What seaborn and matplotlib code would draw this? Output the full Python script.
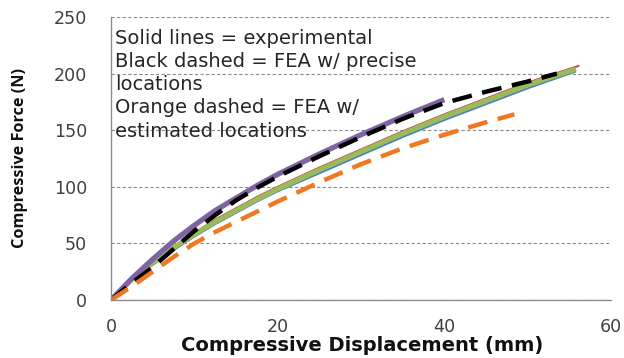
import matplotlib
matplotlib.use("Agg")
import matplotlib.pyplot as plt
import seaborn as sns
import pandas as pd

# Data
green_x = [0, 2.5, 5, 7.5, 10, 12.5, 15, 17.5, 20, 25, 30, 35, 40, 45, 50, 55.8]
green_y = [0, 18, 33, 46, 58, 69, 79, 89, 98, 115, 131, 147, 162, 176, 190, 204]
red_x = [0, 2.5, 5, 7.5, 10, 12.5, 15, 17.5, 20, 25, 30, 35, 40, 45, 50, 56.2]
red_y = [0, 19, 34, 47, 59, 71, 81, 91, 100, 117, 133, 149, 164, 178, 192, 207]
blue_x = [0, 2.5, 5, 7.5, 10, 12.5, 15, 17.5, 20, 25, 30, 35, 40, 45, 50, 55.8]
blue_y = [0, 17, 31, 44, 56, 67, 77, 87, 96, 112, 128, 144, 159, 173, 187, 202]
purple_x = [0, 2.5, 5, 7.5, 10, 12.5, 15, 17.5, 20, 25, 30, 35, 40]
purple_y = [0, 19, 36, 52, 66, 79, 90, 101, 111, 129, 146, 162, 177]
black_x = [0, 2.5, 5, 7.5, 10, 12.5, 15, 17.5, 20, 25, 30, 35, 40, 45, 50, 53.5]
black_y = [0, 15, 29, 45, 61, 75, 88, 99, 109, 127, 144, 160, 174, 184, 193, 200]
orange_x = [0, 2.5, 5, 7.5, 10, 12.5, 15, 17.5, 20, 25, 30, 35, 40, 45, 48.4]
orange_y = [0, 12, 25, 38, 50, 60, 69, 78, 87, 104, 120, 134, 146, 157, 164]

x_ticks = [0, 20, 40, 60]
y_ticks = [0, 50, 100, 150, 200, 250]
x_label = "Compressive Displacement (mm)"
y_label = "Compressive Force (N)"
note = ("Solid lines = experimental\nBlack dashed = FEA w/ precise\nlocations\n"
        "Orange dashed = FEA w/\nestimated locations")

sns.set_style("white")
plt.rcParams['font.family'] = ['DejaVu Sans']

fig = plt.figure(figsize=(6.24, 3.58), dpi=100)
ax = fig.add_axes([111/624, 58/358, 500/624, 283/358])

series = [
    (blue_x, blue_y, "#4F81BD", 1.5, "-"),
    (red_x, red_y, "#C0504D", 1.5, "-"),
    (green_x, green_y, "#9BBB59", 3.5, "-"),
    (purple_x, purple_y, "#8064A2", 3.8, "-"),
    (black_x, black_y, "#000000", 3.2, (0, (4.5, 2.4))),
    (orange_x, orange_y, "#F07820", 3.2, (0, (4.5, 2.4))),
]
for xs, ys, c, lw, ls in series:
    df = pd.DataFrame({"x": xs, "y": ys})
    sns.lineplot(data=df, x="x", y="y", ax=ax, color=c, linewidth=lw,
                 linestyle=ls, sort=False, estimator=None,
                 solid_capstyle="butt", dash_capstyle="butt")

ax.set_xlim(0, 60)
ax.set_ylim(0, 250)
ax.set_xticks(x_ticks)
ax.set_yticks(y_ticks)
ax.yaxis.grid(True, color="#8c8c8c", linestyle=(0, (3, 2)), linewidth=0.8)
ax.xaxis.grid(False)
ax.set_axisbelow(True)
for s in ["top", "right"]:
    ax.spines[s].set_visible(False)
for s in ["left", "bottom"]:
    ax.spines[s].set_color("#8c8c8c")
    ax.spines[s].set_linewidth(1.0)
ax.tick_params(axis="both", which="major", direction="out", length=4.5, width=1,
               color="#8c8c8c", labelcolor="#404040", labelsize=12.6)
ax.tick_params(axis="y", pad=12.5)
ax.tick_params(axis="x", pad=8.5)
ax.set_xlabel(x_label, fontsize=14, fontweight="bold", color="#111111")
ax.set_ylabel(y_label, fontsize=11.7, fontweight="bold", color="#111111",
              family=["Open Sans", "DejaVu Sans"])
ax.xaxis.set_label_coords(0.502, -0.128)
ax.yaxis.set_label_coords(-0.166, 0.5)

ax.text(4/500, 0.958, note, transform=ax.transAxes, va="top", ha="left",
        fontsize=14, color="#262626", linespacing=1.28)

fig.savefig("out.png", dpi=100)
